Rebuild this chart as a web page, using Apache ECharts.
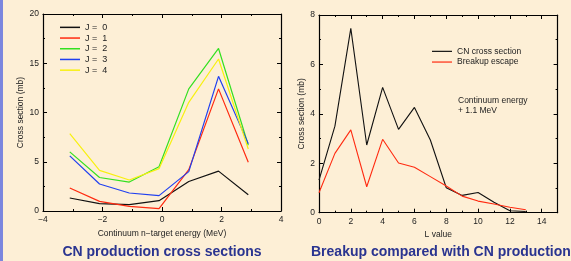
<!DOCTYPE html>
<html>
<head>
<meta charset="utf-8">
<script src="https://cdn.jsdelivr.net/npm/echarts@6/dist/echarts.min.js"></script>
<style>
  html, body { margin: 0; padding: 0; background: #fdefd6; }
  #strip { position: absolute; left: 0; top: 0; width: 3px; height: 261px; background: #7b86de; z-index: 2; }
  #chart { width: 571px; height: 261px; }
</style>
</head>
<body>
<div id="strip"></div>
<div id="chart"></div>
<script>
// Left panel: CN production cross sections per J
const energies = [-3.1, -2.1, -1.1, -0.1, 0.9, 1.9, 2.9];
const jNames = ['J =  0', 'J =  1', 'J =  2', 'J =  3', 'J =  4'];
const jValues = [
    [1.32, 0.75, 0.65, 1.05, 3.0, 4.05, 1.65],
    [2.33, 0.98, 0.47, 0.24, 4.2, 12.4, 4.95],
    [6.0, 3.4, 2.94, 4.5, 12.4, 16.5, 6.67],
    [5.6, 2.74, 1.83, 1.56, 4.0, 13.67, 6.84],
    [7.85, 4.13, 3.15, 4.3, 11.03, 15.43, 6.3]
];
const jColors = ['#111111', '#ff2a10', '#33e020', '#2040f0', '#f8f010'];

// Right panel: CN cross section vs breakup escape per L
const lValues = [0, 1, 2, 3, 4, 5, 6, 7, 8, 9, 10, 11, 12, 13];
const cnCross = [1.32, 3.5, 7.46, 2.74, 5.07, 3.37, 4.26, 2.94, 1.01, 0.70, 0.82, 0.42, 0.08, 0.05];
const breakup = [0.81, 2.4, 3.35, 1.05, 2.97, 2.01, 1.84, 1.46, 1.08, 0.67, 0.47, 0.35, 0.22, 0.12];

const font = 'Liberation Sans';
const labelStyle = { fontFamily: font, fontSize: 8.5, color: '#222' };

function frameAxis(min, max, interval, pos, gridIndex, showLabel, name) {
    return {
        type: 'value',
        gridIndex: gridIndex,
        position: pos,
        min: min,
        max: max,
        interval: interval,
        name: name || '',
        nameLocation: 'middle',
        nameTextStyle: { fontFamily: font, fontSize: 8.5, color: '#222' },
        axisLine: { show: true, onZero: false, lineStyle: { color: '#000', width: 1.2 } },
        axisTick: { show: true, inside: true, length: 4, lineStyle: { color: '#000' } },
        minorTick: { show: true, splitNumber: 2, length: 2, lineStyle: { color: '#000' } },
        axisLabel: Object.assign({
            show: showLabel,
            margin: 4,
            formatter: v => String(v).replace('-', '\u2212')
        }, labelStyle),
        splitLine: { show: false }
    };
}

const chart = echarts.init(document.getElementById('chart'));

const xAxes = [
    Object.assign(frameAxis(-4, 4, 2, 'bottom', 0, true, 'Continuum n\u2212target energy (MeV)'), { nameGap: 12 }),
    frameAxis(-4, 4, 2, 'top', 0, false),
    Object.assign(frameAxis(0, 15, 2, 'bottom', 1, true, 'L value'), { nameGap: 12 }),
    frameAxis(0, 15, 2, 'top', 1, false)
];
xAxes[2].axisLabel.showMaxLabel = false;
const yAxes = [
    Object.assign(frameAxis(0, 20, 5, 'left', 0, true, 'Cross section (mb)'), { nameGap: 17 }),
    frameAxis(0, 20, 5, 'right', 0, false),
    Object.assign(frameAxis(0, 8, 2, 'left', 1, true, 'Cross section (mb)'), { nameGap: 12 }),
    frameAxis(0, 8, 2, 'right', 1, false)
];

const series = jNames.map((n, i) => ({
    name: n,
    type: 'line',
    xAxisIndex: 0,
    yAxisIndex: 0,
    data: energies.map((e, k) => [e, jValues[i][k]]),
    symbol: 'none',
    lineStyle: { color: jColors[i], width: 1.2 },
    itemStyle: { color: jColors[i] }
}));
series.push({
    name: 'CN cross section',
    type: 'line',
    xAxisIndex: 2,
    yAxisIndex: 2,
    data: lValues.map((l, k) => [l, cnCross[k]]),
    symbol: 'none',
    lineStyle: { color: '#111', width: 1.1 },
    itemStyle: { color: '#111' }
});
series.push({
    name: 'Breakup escape',
    type: 'line',
    xAxisIndex: 2,
    yAxisIndex: 2,
    data: lValues.map((l, k) => [l, breakup[k]]),
    symbol: 'none',
    lineStyle: { color: '#ff2a10', width: 1.1 },
    itemStyle: { color: '#ff2a10' }
});

const option = {
    backgroundColor: '#fdefd6',
    animation: false,
    grid: [
        { left: 43, top: 14, width: 238, height: 197 },
        { left: 319, top: 15, width: 238.6, height: 197.7 }
    ],
    xAxis: xAxes,
    yAxis: yAxes,
    legend: [
        {
            data: jNames,
            orient: 'vertical',
            left: 55,
            top: 17,
            icon: 'rect',
            itemWidth: 20,
            itemHeight: 1.5,
            itemGap: 0,
            textStyle: { fontFamily: font, fontSize: 9, color: '#222', lineHeight: 10.7 }
        },
        {
            data: ['CN cross section', 'Breakup escape'],
            orient: 'vertical',
            left: 427,
            top: 41,
            icon: 'rect',
            itemWidth: 20,
            itemHeight: 1.2,
            itemGap: 0,
            textStyle: { fontFamily: font, fontSize: 8.5, color: '#222', lineHeight: 10.7 }
        }
    ],
    graphic: [
        {
            type: 'text', x: 458, y: 96,
            style: { text: 'Continuum energy\n+ 1.1 MeV', font: '8.5px ' + font, fill: '#222', lineHeight: 10 }
        },
        {
            type: 'text', x: 162, y: 252,
            style: { text: 'CN production cross sections', font: 'bold 14px ' + font, fill: '#2a3490',
                     textAlign: 'center', textVerticalAlign: 'middle' }
        },
        {
            type: 'text', x: 311, y: 252,
            style: { text: 'Breakup compared with CN production', font: 'bold 14px ' + font, fill: '#2a3490',
                     textAlign: 'left', textVerticalAlign: 'middle' }
        }
    ],
    series: series
};

chart.setOption(option);
</script>
</body>
</html>
